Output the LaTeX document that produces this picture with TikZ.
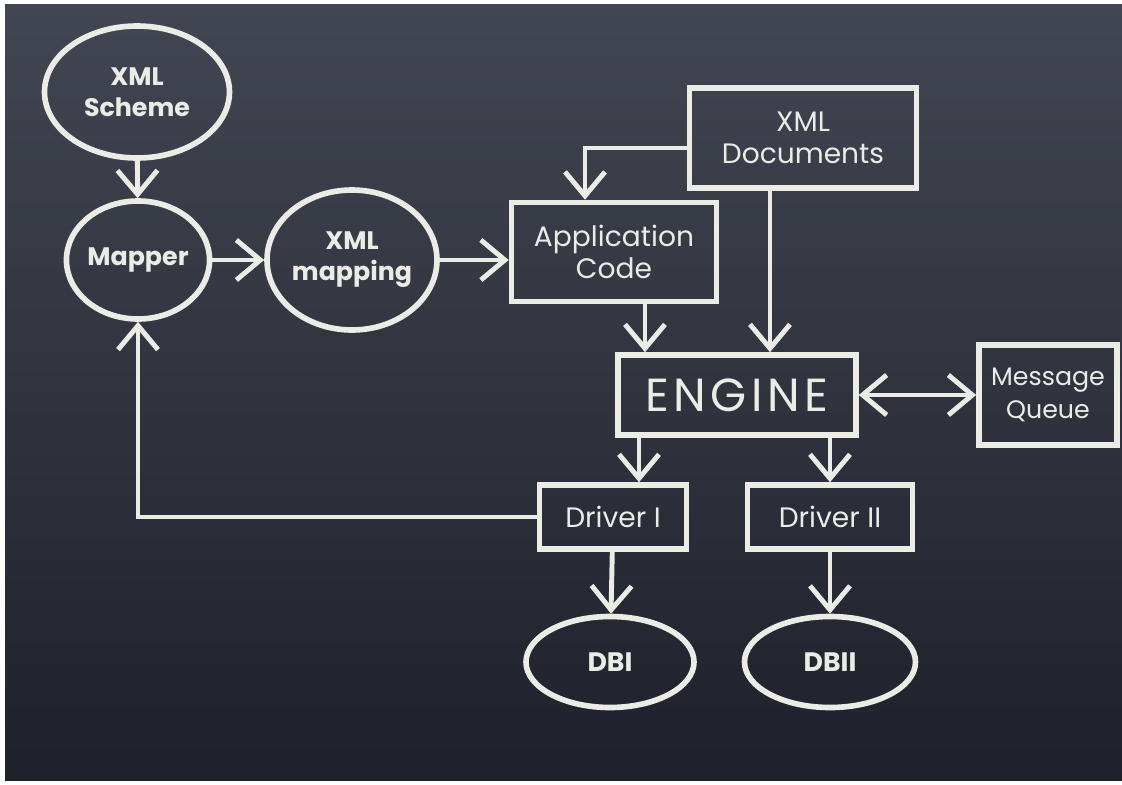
\documentclass[tikz,border=0pt]{standalone}
\usepackage{fontspec}
\setmainfont{Poppins}
\usetikzlibrary{shapes.geometric,arrows.meta}
\definecolor{boardtop}{RGB}{66,70,82}
\definecolor{boardbot}{RGB}{30,33,42}
\definecolor{chalk}{RGB}{236,236,230}
\newcommand{\pxu}{0.25mm}

\begin{document}
\begin{tikzpicture}[x=0.25mm,y=-0.25mm]
\tikzstyle{chalkline} 	= [draw = chalk, line width = 4pt] % chalk stroke
\tikzstyle{tip} 		= [color = chalk, line width = 3pt] % shortcut for the chalk colour
\tikzstyle{arrow} 	= [tip, line width = 3.5pt, -{Straight Barb[length=6mm, width=10mm]}] % define standard arrow
\tikzstyle{darrow} 	= [tip, line width = 3.5pt, {Straight Barb[length=6mm, width=10mm]}-{Straight Barb[length=6mm, width=10mm]}]
\tikzstyle{oval} 		= [chalkline, ellipse, inner sep = 0pt, text = chalk, align = center, font = \bfseries\fontsize{18}{22}\selectfont] % define ellipse
\tikzstyle{block} 	= [chalkline, rectangle, inner sep = 0pt, text = chalk, align = center, font = \fontsize{20}{23}\selectfont] % define block

% board
\useasboundingbox (0,0) rectangle (1122,784);
\fill[white] (0,0) rectangle (1122,784);
\shade[top color=boardtop, bottom color=boardbot] (5,4) rectangle (1122,780);

% mapping side
\node(scheme)[oval, minimum width=185*\pxu, minimum height=132*\pxu] at (137,92){XML\\Scheme};
\node(mapper)[oval, minimum width=142*\pxu, minimum height=118*\pxu] at (138,260){Mapper};
\node(xmlmap)[oval, minimum width=170*\pxu, minimum height=140*\pxu] at (352,260){XML\\mapping};

% application and engine
\node(appcode)[block, minimum width=205*\pxu, minimum height=99*\pxu] at (614,252){Application\\Code};
\node(xmldocs)[block, minimum width=227*\pxu, minimum height=100*\pxu] at (803,138){XML\\Documents};
\node(engine)[block, minimum width=238*\pxu, minimum height=80*\pxu, font=\fontsize{33}{35}\selectfont\addfontfeature{LetterSpace=10}] at (737,395){ENGINE};
\node(mq)[block, minimum width=138*\pxu, minimum height=100*\pxu, font=\fontsize{18}{23}\selectfont] at (1048,395){Message\\Queue};

% drivers and databases
\node(drv1)[block, minimum width=147*\pxu, minimum height=64*\pxu] at (613,517){Driver I};
\node(drv2)[block, minimum width=165*\pxu, minimum height=64*\pxu] at (830,517){Driver II};
\node(db1)[oval, minimum width=168*\pxu, minimum height=91*\pxu, font=\bfseries\fontsize{19}{22}\selectfont] at (610,662){DBI};
\node(db2)[oval, minimum width=171*\pxu, minimum height=91*\pxu, font=\bfseries\fontsize{19}{22}\selectfont] at (830,662){DBII};

% connectors
\draw[arrow](scheme) -- (mapper);
\draw[arrow](mapper) -- (xmlmap);
\draw[arrow](xmlmap.east) -- (appcode.west |- xmlmap.east);
\draw[arrow]([yshift=-10*\pxu]xmldocs.west) -| ([xshift=-29*\pxu]appcode.north);
\draw[arrow]([xshift=-33*\pxu]xmldocs.south) -- ([xshift=-33*\pxu]xmldocs.south |- engine.north);
\draw[arrow]([xshift=31*\pxu]appcode.south) -- ([xshift=31*\pxu]appcode.south |- engine.north);
\draw[darrow](engine) -- (mq);
\draw[arrow]([xshift=26*\pxu]drv1.north |- engine.south) -- ([xshift=26*\pxu]drv1.north);
\draw[arrow](drv2.north |- engine.south) -- (drv2.north);
\draw[arrow](drv1) -- (db1);
\draw[arrow](drv2) -- (db2);
\draw[arrow](drv1.west) -| (mapper.south);
\end{tikzpicture}
\end{document}
